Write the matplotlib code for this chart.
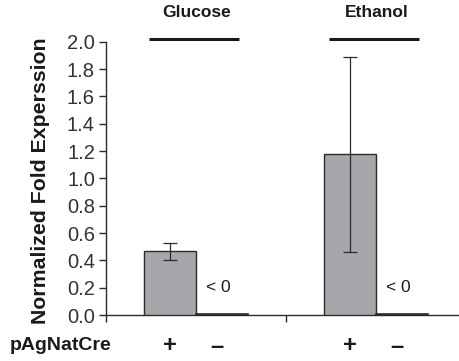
import numpy as np
import matplotlib
matplotlib.use("Agg")
import matplotlib.pyplot as plt

plt.rcParams.update({
    "font.family": ["Liberation Sans", "DejaVu Sans"],
    "axes.linewidth": 1.0,
})

# ---- data ------------------------------------------------------------
groups = ["Glucose", "Ethanol"]
plus_vals = [0.47, 1.18]
plus_err_lo = [0.07, 0.72]
plus_err_hi = [0.06, 0.71]
minus_vals = [0.006, 0.006]
minus_note = "< 0"
yticks = [0.0, 0.2, 0.4, 0.6, 0.8, 1.0, 1.2, 1.4, 1.6, 1.8, 2.0]

BAR = "#a6a7aa"
EDGE = "#2b2b2b"
INK = "#1a1a1a"

fig = plt.figure(figsize=(4.59, 3.61), dpi=100)
ax = fig.add_axes([0.231, 0.1274, 0.769, 0.757])

x = np.arange(len(groups))
w = 0.289
ax.bar(x - w / 2, plus_vals, width=w, color=BAR, edgecolor=EDGE, linewidth=1.0,
       yerr=[plus_err_lo, plus_err_hi], capsize=5,
       error_kw=dict(elinewidth=0.9, capthick=0.9, ecolor=EDGE), zorder=3)
ax.bar(x + w / 2, minus_vals, width=w, color=BAR, edgecolor=EDGE, linewidth=1.2, zorder=3)

for i in x:
    ax.text(i + 0.055, 0.2, minus_note, fontsize=12.5, color=INK, ha="left", va="center")
    # group header line + name
    ax.plot([i - w * 0.9, i + w * 0.82], [2.02, 2.02], color=INK, lw=2.2,
            clip_on=False, solid_capstyle="butt")
    ax.text(i + 0.005, 2.16, groups[i], fontsize=12.5, fontweight="bold",
            ha="center", va="bottom", color=INK, clip_on=False)
    ax.text(i - w / 2, -0.225, "+", fontsize=17, fontweight="bold", ha="center",
            va="center", color=INK, clip_on=False)
    ax.text(i + w / 2 - 0.03, -0.23, "\u2013", fontsize=17, fontweight="bold",
            ha="center", va="center", color=INK, clip_on=False)

fig.text(0.022, 0.042, "pAgNatCre", fontsize=14, fontweight="bold", color=INK,
         ha="left", va="center")

ax.set_xlim(-0.5, 1.461)
ax.set_ylim(0, 2.0)
ax.set_xticks([-0.5, 0.5])
ax.set_xticklabels([])
ax.set_yticks(yticks)
ax.set_yticklabels([f"{v:.1f}" for v in yticks], fontsize=14.5, color="#333333")
ax.tick_params(axis="both", direction="out", length=5, width=1.0, color=EDGE, pad=3)
ax.spines["top"].set_visible(False)
ax.spines["right"].set_visible(False)
ax.spines["left"].set_color(EDGE)
ax.spines["bottom"].set_color(EDGE)
ax.set_ylabel("Normalized Fold Experssion", fontsize=15.3, fontweight="bold",
              color=INK)
ax.yaxis.set_label_coords(-0.16, 0.49)

fig.savefig("out.png", dpi=100)
